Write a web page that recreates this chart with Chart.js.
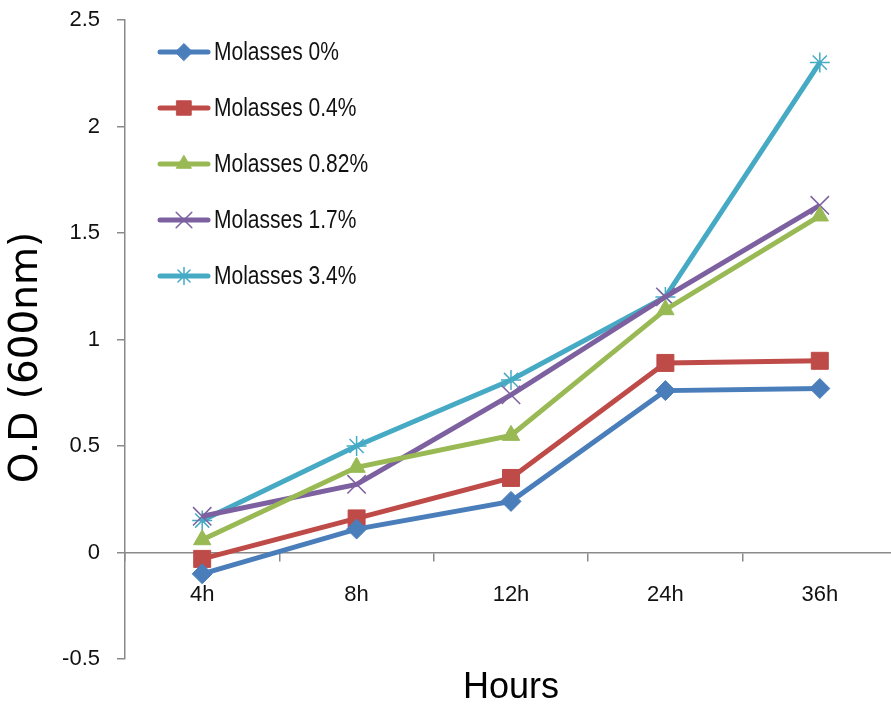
<!DOCTYPE html>
<html>
<head>
<meta charset="utf-8">
<script src="https://cdn.jsdelivr.net/npm/chart.js@4/dist/chart.umd.min.js"></script>
<style>
  html, body { margin: 0; padding: 0; background: #ffffff; overflow: hidden; }
  #wrap { position: relative; width: 897px; height: 706px; }
</style>
</head>
<body>
<div id="wrap"><canvas id="growth"></canvas></div>
<script>
// Sampling times
const hours = ['4h', '8h', '12h', '24h', '36h'];

// Optical density at 600 nm for each molasses concentration
const molasses0   = [-0.10, 0.11, 0.24, 0.76, 0.77];
const molasses04  = [-0.03, 0.16, 0.35, 0.89, 0.90];
const molasses082 = [0.06, 0.40, 0.55, 1.14, 1.58];
const molasses17  = [0.17, 0.32, 0.74, 1.20, 1.63];
const molasses34  = [0.15, 0.50, 0.81, 1.20, 2.30];

const seriesNames = ['Molasses 0%', 'Molasses 0.4%', 'Molasses 0.82%', 'Molasses 1.7%', 'Molasses 3.4%'];

// Y-axis ticks
const yTicks = [-0.5, 0, 0.5, 1, 1.5, 2, 2.5];
const yTitle = 'O.D (600nm)';

const SANS = '"Liberation Sans", Arial, sans-serif';
const AXIS_GREY = '#8a8a8a';
const TEXT = '#111111';

const styles = [
  { color: '#4a7ebb', point: 'rectRot',  radius: 10, border: 1 },
  { color: '#be4b48', point: 'rect',     radius: 12, border: 1 },
  { color: '#98b954', point: 'triangle', radius: 10, border: 1 },
  { color: '#7d60a0', point: 'crossRot', radius: 13, border: 1.5 },
  { color: '#46aac5', point: 'star',     radius: 10, border: 1.5 }
];

const values = [molasses0, molasses04, molasses082, molasses17, molasses34];

const datasets = values.map((v, i) => ({
  label: seriesNames[i],
  data: v,
  borderColor: styles[i].color,
  backgroundColor: styles[i].color,
  borderWidth: 5,
  pointStyle: styles[i].point,
  pointRadius: styles[i].radius,
  pointHoverRadius: styles[i].radius,
  pointBackgroundColor: styles[i].color,
  pointBorderColor: styles[i].color,
  pointBorderWidth: styles[i].border,
  tension: 0
}));

// Legend drawn inside the plot: short line with the series marker, then the label
const insideLegend = {
  id: 'insideLegend',
  afterDraw(chart) {
    const ctx = chart.ctx;
    const x0 = 160, x1 = 208, textX = 214, y0 = 52, step = 56;
    ctx.save();
    chart.data.datasets.forEach((ds, i) => {
      const y = y0 + i * step;
      ctx.strokeStyle = ds.borderColor;
      ctx.lineWidth = ds.borderWidth;
      ctx.lineCap = 'round';
      ctx.beginPath();
      ctx.moveTo(x0, y);
      ctx.lineTo(x1, y);
      ctx.stroke();
      ctx.fillStyle = ds.pointBackgroundColor;
      ctx.strokeStyle = ds.pointBorderColor;
      ctx.lineWidth = ds.pointBorderWidth;
      Chart.helpers.drawPoint(ctx, { pointStyle: ds.pointStyle, radius: ds.pointRadius * 0.85, rotation: 0, borderWidth: ds.pointBorderWidth }, (x0 + x1) / 2, y);
      // condensed label text
      ctx.save();
      ctx.translate(textX, y + 1);
      ctx.scale(0.84, 1);
      ctx.fillStyle = TEXT;
      ctx.font = '25px ' + SANS;
      ctx.textBaseline = 'middle';
      ctx.textAlign = 'left';
      ctx.fillText(ds.label, 0, 0);
      ctx.restore();
    });
    ctx.restore();
  }
};

// Vertical axis title, centred a little below the middle of the plot
const yAxisTitle = {
  id: 'yAxisTitle',
  afterDraw(chart) {
    const ctx = chart.ctx;
    const area = chart.chartArea;
    ctx.save();
    ctx.translate(27, (area.top + area.bottom) / 2 + 18);
    ctx.rotate(-Math.PI / 2);
    ctx.fillStyle = '#000';
    ctx.font = '39px "DejaVu Sans", sans-serif';
    ctx.textAlign = 'center';
    ctx.textBaseline = 'middle';
    ctx.fillText(yTitle, 0, 0);
    ctx.restore();
  }
};

new Chart(document.getElementById('growth'), {
  type: 'line',
  data: { labels: hours, datasets },
  options: {
    responsive: true,
    maintainAspectRatio: false,
    animation: false,
    events: [],
    layout: { autoPadding: false, padding: { top: 20, right: 0, bottom: 47, left: 0 } },
    plugins: {
      legend: { display: false },
      tooltip: { enabled: false }
    },
    scales: {
      x: {
        type: 'category',
        position: { y: 0 },
        offset: true,
        grid: {
          offset: true,
          drawOnChartArea: false,
          drawTicks: true,
          tickLength: 8,
          tickColor: AXIS_GREY,
          lineWidth: 1.5
        },
        border: { display: true, color: AXIS_GREY, width: 1.5 },
        ticks: {
          color: TEXT,
          padding: 21,
          maxRotation: 0,
          font: { family: SANS, size: 22 }
        },
        title: {
          display: true,
          text: 'Hours',
          color: '#000',
          font: { family: SANS, size: 36 },
          padding: { top: 0, bottom: -110 }
        },
        afterFit(scale) {
          scale.height = 47;
          scale.paddingLeft = 0;
          scale.paddingRight = 0;
        }
      },
      y: {
        min: -0.5,
        max: 2.5,
        afterBuildTicks(scale) { scale.ticks = yTicks.map(v => ({ value: v })); },
        grid: {
          drawOnChartArea: false,
          drawTicks: true,
          tickLength: 8,
          tickColor: AXIS_GREY,
          lineWidth: 1.5
        },
        border: { display: true, color: AXIS_GREY, width: 1.5 },
        ticks: {
          color: TEXT,
          padding: 17,
          font: { family: SANS, size: 22 },
          callback: (v) => String(v)
        },
        title: { display: false },
        afterFit(scale) {
          scale.width = 125;
          scale.paddingTop = 0;
          scale.paddingBottom = 0;
        }
      }
    }
  },
  plugins: [insideLegend, yAxisTitle]
});
</script>
</body>
</html>
